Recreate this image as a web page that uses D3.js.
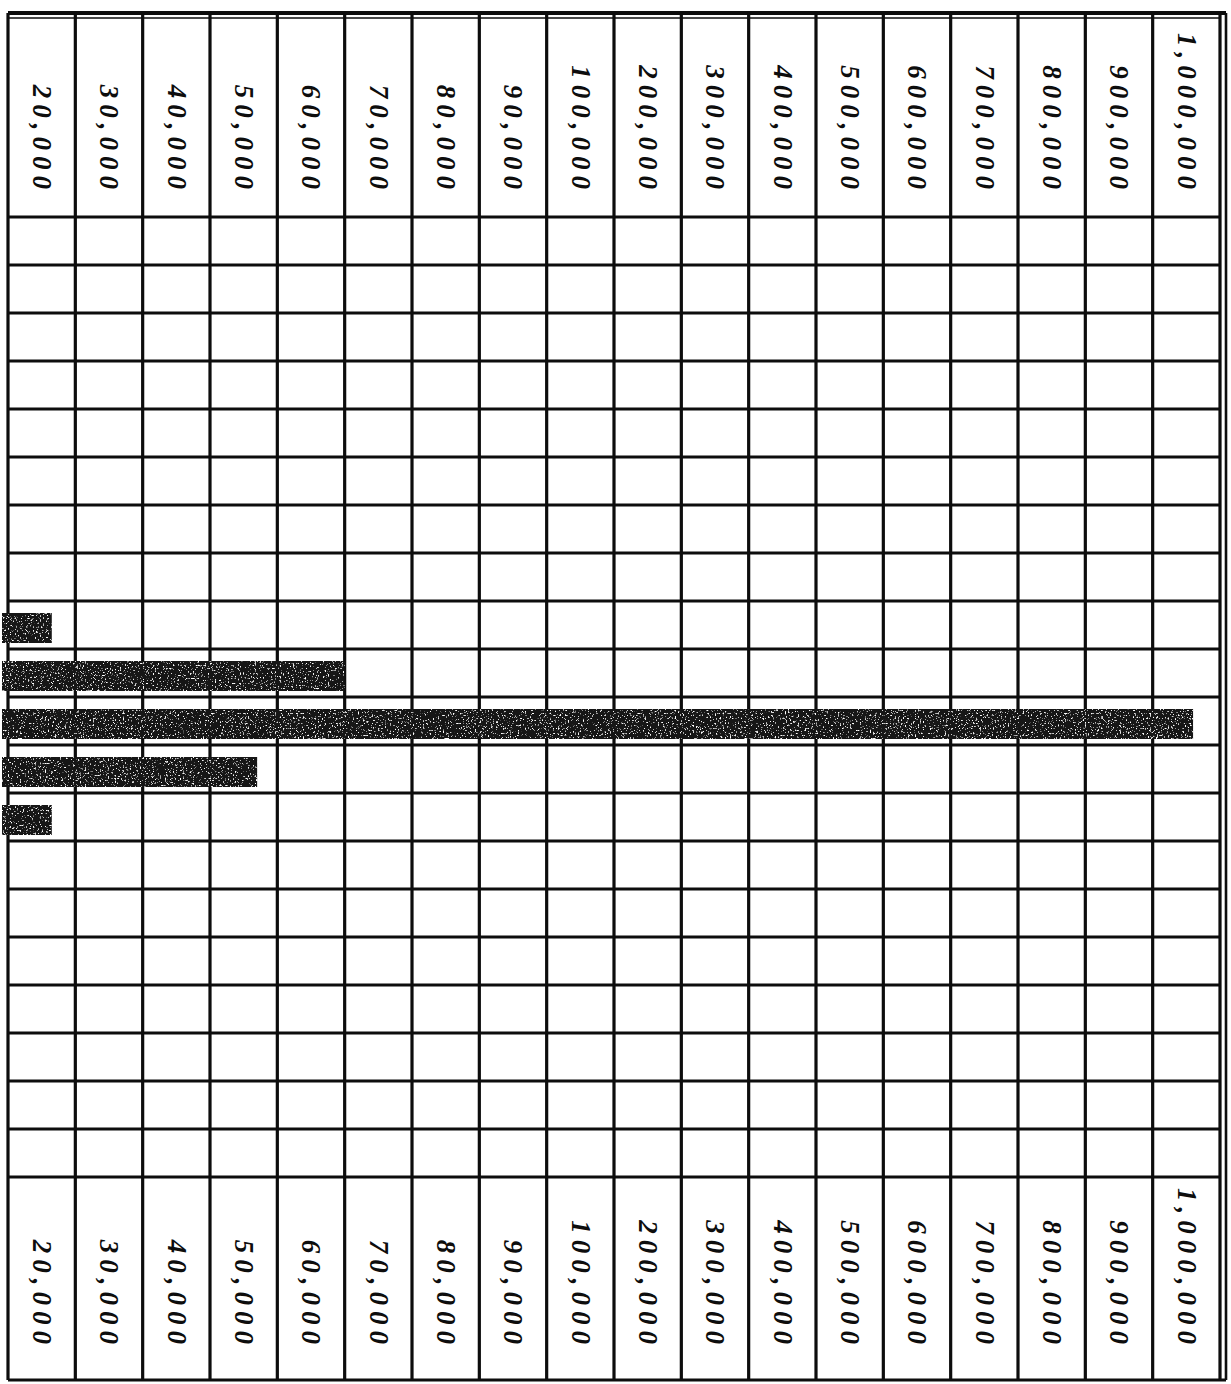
<!DOCTYPE html>
<html>
<head>
<meta charset="utf-8">
<script src="https://cdn.jsdelivr.net/npm/d3@7"></script>
<style>
  html, body { margin: 0; padding: 0; background: #fff; }
</style>
</head>
<body>
<script>
// Column values (right edge of each column)
const tickValues = [20000, 30000, 40000, 50000, 60000, 70000, 80000, 90000,
    100000, 200000, 300000, 400000, 500000, 600000, 700000, 800000, 900000, 1000000];
const tickLabels = ["20,000", "30,000", "40,000", "50,000", "60,000", "70,000", "80,000", "90,000",
    "100,000", "200,000", "300,000", "400,000", "500,000", "600,000", "700,000", "800,000", "900,000", "1,000,000"];
const scaleStart = 10000;

// Body rows of the ruled sheet, and the rows that carry a bar
const rows = d3.range(20);
const barRows = [8, 9, 10, 11, 12];
const barValues = [16500, 60000, 960000, 47000, 16500];

const width = 1231;
const height = 1384;
const frameLeft = 8, frameRight = 1220;
const frameTop = 13, frameBottom = 1380;
const bodyTop = 217, bodyBottom = 1177;

// piecewise scale: every column is one step, whatever the value jump
const stops = [scaleStart].concat(tickValues);
const x = d3.scaleLinear()
    .domain(stops)
    .range(stops.map((d, i) => frameLeft + i * (frameRight - frameLeft) / (stops.length - 1)));

const y = d3.scaleBand()
    .domain(rows)
    .range([bodyTop, bodyBottom]);

const svg = d3.select("body").append("svg")
    .attr("width", width)
    .attr("height", height)
    .attr("viewBox", [0, 0, width, height]);

svg.append("rect").attr("width", width).attr("height", height).attr("fill", "#fff");

// grainy print look for the bars
const defs = svg.append("defs");
const grain = defs.append("filter")
    .attr("id", "grain")
    .attr("x", 0).attr("y", 0).attr("width", 1).attr("height", 1);
grain.append("feTurbulence")
    .attr("type", "fractalNoise")
    .attr("baseFrequency", 0.6)
    .attr("numOctaves", 2)
    .attr("seed", 4)
    .attr("result", "noise");
grain.append("feColorMatrix")
    .attr("in", "noise")
    .attr("type", "matrix")
    .attr("values", "0 0 0 0 1  0 0 0 0 1  0 0 0 0 1  7 0 0 0 -4.3")
    .attr("result", "speck");
grain.append("feComposite")
    .attr("in", "speck").attr("in2", "SourceGraphic")
    .attr("operator", "in").attr("result", "speckIn");
const merge = grain.append("feMerge");
merge.append("feMergeNode").attr("in", "SourceGraphic");
merge.append("feMergeNode").attr("in", "speckIn");

const grid = svg.append("g")
    .attr("stroke", "#0d0d0d")
    .attr("fill", "none");

// vertical rules
grid.selectAll("line.v")
    .data(stops)
    .join("line")
    .attr("class", "v")
    .attr("x1", d => x(d)).attr("x2", d => x(d))
    .attr("y1", frameTop).attr("y2", frameBottom)
    .attr("stroke-width", 3.2);

// horizontal rules
grid.selectAll("line.h")
    .data(rows.concat([rows.length]))
    .join("line")
    .attr("class", "h")
    .attr("x1", frameLeft).attr("x2", frameRight)
    .attr("y1", d => bodyTop + d * y.step())
    .attr("y2", d => bodyTop + d * y.step())
    .attr("stroke-width", 2.8);

// outer frame: double line top and right
grid.append("line").attr("x1", frameLeft).attr("x2", frameRight + 6).attr("y1", frameTop).attr("y2", frameTop).attr("stroke-width", 4);
grid.append("line").attr("x1", frameLeft).attr("x2", frameRight).attr("y1", frameTop + 5).attr("y2", frameTop + 5).attr("stroke-width", 1.5);
grid.append("line").attr("x1", frameRight + 6).attr("x2", frameRight + 6).attr("y1", frameTop).attr("y2", frameBottom).attr("stroke-width", 2.6);
grid.append("line").attr("x1", frameLeft).attr("x2", frameRight + 6).attr("y1", frameBottom).attr("y2", frameBottom).attr("stroke-width", 3);

// Bars, laid over the ruling
svg.append("g")
    .selectAll("rect")
    .data(barValues)
    .join("rect")
    .attr("x", 2)
    .attr("y", (d, i) => y(barRows[i]) + 12)
    .attr("height", y.bandwidth() - 18)
    .attr("width", d => x(d) - 2)
    .attr("fill", "#141414")
    .attr("filter", "url(#grain)");

// Column labels, written sideways in both header bands
const labelFont = "italic bold 27px 'Liberation Serif', 'DejaVu Serif', serif";
[195, 1350].forEach(endY => {
    svg.append("g")
        .selectAll("text")
        .data(tickValues)
        .join("text")
        .attr("transform", (d, i) => `translate(${(x(stops[i]) + x(d)) / 2},${endY}) rotate(90)`)
        .attr("text-anchor", "end")
        .attr("dy", "0.32em")
        .attr("letter-spacing", "6px")
        .attr("fill", "#0d0d0d")
        .style("font", labelFont)
        .text((d, i) => tickLabels[i]);
});
</script>
</body>
</html>
